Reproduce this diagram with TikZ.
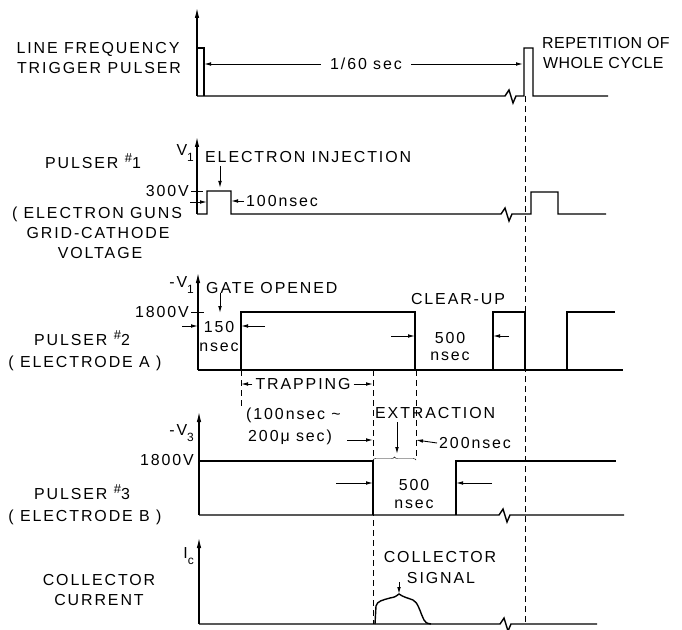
\documentclass[tikz,border=0pt]{standalone}
\usepackage{fontspec}
\setmainfont{Liberation Sans}[LetterSpace=12]
\usetikzlibrary{arrows.meta,decorations.pathreplacing}
\newcommand\lowsub[1]{\raisebox{-0.35em}{\fontsize{12}{12}\selectfont #1}}
\newcommand\rhash{\raisebox{0.4em}{\fontsize{13}{13}\selectfont\#}}

\begin{document}
\begin{tikzpicture}[x=1bp,y=-1bp,
  font=\fontsize{16}{20}\selectfont,
  lbl/.style={inner sep=0pt,text height=11.5bp,text depth=0pt},
  tight/.style={font=\fontsize{16}{20}\selectfont\addfontfeature{LetterSpace=3}},
  wave/.style={line width=1.4bp,line join=miter},
  vaxis/.style={line width=1.1bp,-{Latex[length=10bp,width=4.5bp]}},
  dim/.style={line width=0.9bp,-{Latex[length=7bp,width=3.6bp]}},
  guide/.style={line width=0.8bp,dash pattern=on 6bp off 4bp}]
\useasboundingbox (0,0) rectangle (682,630);
% Line frequency trigger pulser
\draw[vaxis] (197,96) -- (197,8);
\draw[wave] (197,96) -- (505,96) -- ++(4,-6) -- ++(4,13) -- ++(3,-7) -- (524,96) -- (524,48) -- (533,48) -- (533,96) -- (608,96);
\draw[wave] (197,48) -- (204,48) -- (204,96);
\node[lbl] (trig1) at (98,48) {LINE FREQUENCY};
\node[lbl] (trig2) at (99,68) {TRIGGER PULSER};
\node[lbl,tight,anchor=west] (rep1) at (542,43) {REPETITION OF};
\node[lbl,tight,anchor=west] (rep2) at (543,63) {WHOLE CYCLE};
\node[lbl,inner xsep=9bp] (t60) at (366,64) {1/60 sec};
\draw[dim] (t60.west) -- (204,64);
\draw[dim] (t60.east) -- (523,64);
% Pulser 1
\draw[vaxis] (197,214) -- (197,137);
\draw[wave] (197,214) -- (207,214) -- (207,191) -- (231,191) -- (231,214) -- (501,214) -- ++(4,-6) -- ++(4,13) -- ++(3,-7) -- (531,214) -- (531,192) -- (558,192) -- (558,214) -- (606,214);
\draw (191,191) -- (203,191);
\node[lbl,anchor=east] (v1a) at (194,150) {V\lowsub{1}};
\node[lbl,anchor=east] (u300) at (189,191) {300V};
\node[lbl,anchor=west] (inj) at (205,157) {ELECTRON INJECTION};
\draw[dim] (220,166) -- (220,188);
\draw[dim] (190,202) -- (207,202);
\node[lbl,anchor=west,inner xsep=2bp] (t100) at (244,201) {100nsec};
\draw[dim] (t100.west) -- (231,201);
\node[lbl] (p1a) at (93,163) {PULSER \rhash1};
\node[lbl] (p1b) at (97,213) {( ELECTRON GUNS};
\node[lbl] (p1c) at (98,233) {GRID-CATHODE};
\node[lbl] (p1d) at (100,253) {VOLTAGE};
% Pulser 2
\draw[vaxis] (198,370) -- (198,273);
\draw[wave] (198,370) -- (623,370);
\draw[wave] (241,370) -- (241,312) -- (415,312) -- (415,370) (493,370) -- (493,312) -- (525,312) -- (525,370) (567,370) -- (567,312) -- (615,312);
\draw (191,312) -- (204,312);
\node[lbl,anchor=east] (v1b) at (194,282) {-V\lowsub{1}};
\node[lbl,anchor=east] (u1800a) at (189,312) {1800V};
\node[lbl,anchor=west] (gate) at (206,288) {GATE OPENED};
\draw[dim] (220,293) -- (220,313);
\node[lbl] (t150a) at (219,327) {150};
\node[lbl] (t150b) at (219,346) {nsec};
\draw[dim] (182,326) -- (198,326);
\draw[dim] (265,326) -- (241,326);
\node[lbl] (clr) at (458,299) {CLEAR-UP};
\node[lbl] (t500a) at (450,338) {500};
\node[lbl] (t500b) at (450,355) {nsec};
\draw[dim] (391,336) -- (415,336);
\draw[dim] (509,336) -- (493,336);
\node[lbl] (p2a) at (82,340) {PULSER \rhash2};
\node[lbl] (p2b) at (85,362) {( ELECTRODE A )};
% trapping and extraction
\draw[guide] (525,96) -- (525,624);
\draw[guide] (373,370) -- (373,624);
\draw[guide] (416,370) -- (416,459);
\draw[guide] (241,370) -- (241,406);
\node[lbl,inner xsep=3bp] (trap) at (303,384) {TRAPPING};
\draw[dim] (trap.west) -- (241,384);
\draw[dim] (trap.east) -- (373,384);
\node[lbl,anchor=west] (rng1) at (246,414) {(100nsec \textasciitilde};
\node[lbl,anchor=west] (rng2) at (248,436) {200μ sec)};
\draw[dim] (347,440) -- (373,440);
\node[lbl,anchor=west] (ext) at (375,413) {EXTRACTION};
\draw[dim] (397,422) -- (397,454);
\draw[decorate,decoration={brace,amplitude=3bp}] (373,460) -- (416,460);
\node[lbl,anchor=west,inner xsep=2bp] (t200) at (437,443) {200nsec};
\draw[dim] (t200.west) -- (416,440);
% Pulser 3
\draw[vaxis] (199,515) -- (199,412);
\draw[wave] (199,515) -- (499,515) -- ++(4,-6) -- ++(4,13) -- ++(3,-7) -- (624,515);
\draw[wave] (199,461) -- (373,461) -- (373,515) (456,515) -- (456,461) -- (616,461);
\node[lbl,anchor=east] (v3) at (194,430) {-V\lowsub{3}};
\node[lbl,anchor=east] (u1800b) at (194,460) {1800V};
\node[lbl] (t500c) at (414,485) {500};
\node[lbl] (t500d) at (414,503) {nsec};
\draw[dim] (336,483) -- (373,483);
\draw[dim] (492,483) -- (456,483);
\node[lbl] (p3a) at (82,494) {PULSER \rhash3};
\node[lbl] (p3b) at (85,516) {( ELECTRODE B )};
% Collector current
\draw[vaxis] (199,624) -- (199,538);
\draw[wave] (199,624) -- (500,624) -- ++(4,-6) -- ++(4,13) -- ++(3,-7) -- (597,624);
\draw[wave] (375,624) -- (376,606) .. controls (377,601) and (383,600) .. (390,598) .. controls (395,597) .. (399,594) .. controls (403,597) and (408,598) .. (413,600) .. controls (418,602) and (420,612) .. (424,620) .. controls (426,623) .. (431,624);
\node[lbl,anchor=east] (ic) at (194,553) {I\lowsub{c}};
\node[lbl] (sig1) at (440,557) {COLLECTOR};
\node[lbl] (sig2) at (441,578) {SIGNAL};
\draw[dim] (399,582) -- (399,594);
\node[lbl] (cc1) at (99,580) {COLLECTOR};
\node[lbl] (cc2) at (99,600) {CURRENT};
\end{tikzpicture}
\end{document}
